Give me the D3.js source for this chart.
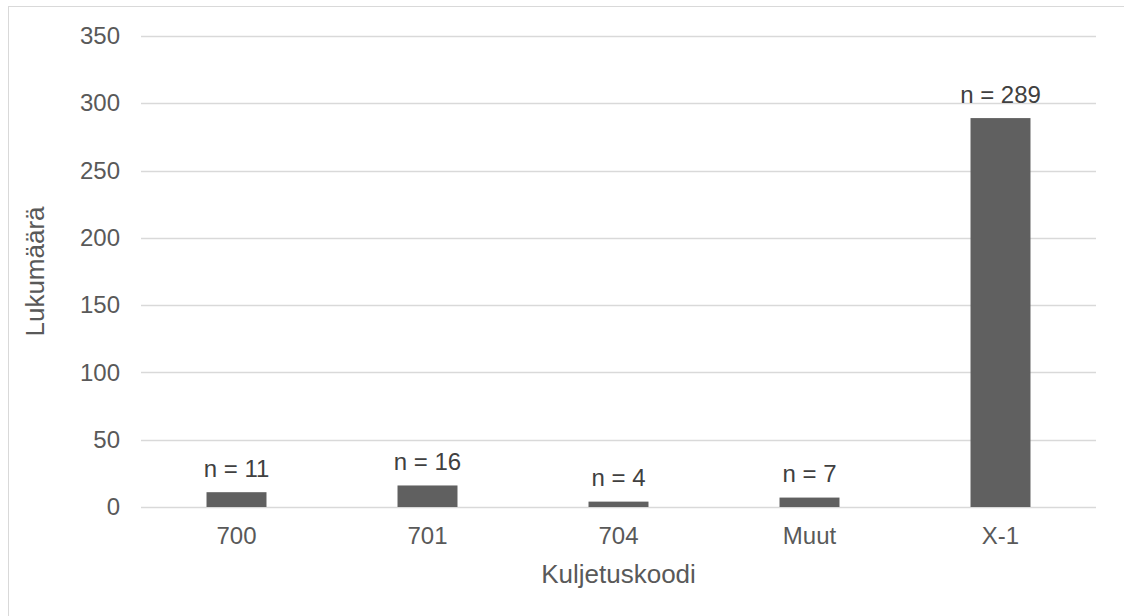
<!DOCTYPE html>
<html>
<head>
<meta charset="utf-8">
<script src="https://cdn.jsdelivr.net/npm/d3@7"></script>
<style>
  html, body { margin: 0; padding: 0; background: #fff; }
  svg { display: block; font-family: "Liberation Sans", Arial, sans-serif; }
</style>
</head>
<body>
<svg id="chart" width="1124" height="616"></svg>
<script>
// Transport code counts
const categories = ["700", "701", "704", "Muut", "X-1"];
const counts = [11, 16, 4, 7, 289];
const yTicks = [0, 50, 100, 150, 200, 250, 300, 350];

const svg = d3.select("#chart");
const W = 1124, H = 616;
const plot = { left: 141, right: 1096, top: 36, bottom: 507 };
const textColor = "#595959";
const tickFont = "24px";
const titleFont = "26px";

// Chart frame (only top and left edges fall inside the canvas)
svg.append("rect")
  .attr("x", 8.5).attr("y", 6.5)
  .attr("width", W).attr("height", H)
  .attr("fill", "none")
  .attr("stroke", "#d9d9d9")
  .attr("stroke-width", 1);

const x = d3.scaleBand()
  .domain(categories)
  .range([plot.left, plot.right])
  .paddingInner(0.686)
  .paddingOuter(0.343);

const y = d3.scaleLinear()
  .domain([0, 350])
  .range([plot.bottom, plot.top]);

// Horizontal gridlines
svg.append("g")
  .selectAll("line")
  .data(yTicks)
  .join("line")
  .attr("x1", plot.left).attr("x2", plot.right)
  .attr("y1", d => Math.round(y(d)) + 0.5)
  .attr("y2", d => Math.round(y(d)) + 0.5)
  .attr("stroke", "#d9d9d9")
  .attr("stroke-width", 1.5);

// Y-axis tick labels
const yAxis = d3.axisLeft(y).tickValues(yTicks).tickSize(0).tickPadding(21);
const gy = svg.append("g")
  .attr("transform", `translate(${plot.left},0)`)
  .call(yAxis);
gy.select(".domain").remove();
gy.selectAll("text")
  .attr("fill", textColor)
  .style("font-size", tickFont)
  .style("font-family", "'Liberation Sans', Arial, sans-serif");

// X-axis category labels
const xAxis = d3.axisBottom(x).tickSize(0).tickPadding(20);
const gx = svg.append("g")
  .attr("transform", `translate(0,${plot.bottom})`)
  .call(xAxis);
gx.select(".domain").remove();
gx.selectAll("text")
  .attr("fill", textColor)
  .style("font-size", tickFont)
  .style("font-family", "'Liberation Sans', Arial, sans-serif");

// Bars
const rows = categories.map((c, i) => ({ c, v: counts[i] }));
svg.append("g")
  .selectAll("rect")
  .data(rows)
  .join("rect")
  .attr("x", d => x(d.c))
  .attr("width", x.bandwidth())
  .attr("y", d => y(d.v))
  .attr("height", d => y(0) - y(d.v))
  .attr("fill", "#606060");

// Value labels above bars
svg.append("g")
  .selectAll("text")
  .data(rows)
  .join("text")
  .attr("x", d => x(d.c) + x.bandwidth() / 2)
  .attr("y", d => y(d.v) - 15.5)
  .attr("text-anchor", "middle")
  .attr("fill", "#404040")
  .style("font-size", tickFont)
  .text(d => `n = ${d.v}`);

// Axis titles
svg.append("text")
  .attr("x", (plot.left + plot.right) / 2)
  .attr("y", 583)
  .attr("text-anchor", "middle")
  .attr("fill", textColor)
  .style("font-size", titleFont)
  .text("Kuljetuskoodi");

svg.append("text")
  .attr("transform", `translate(44,${(plot.top + plot.bottom) / 2}) rotate(-90)`)
  .attr("text-anchor", "middle")
  .attr("fill", textColor)
  .style("font-size", titleFont)
  .text("Lukumäärä");
</script>
</body>
</html>
